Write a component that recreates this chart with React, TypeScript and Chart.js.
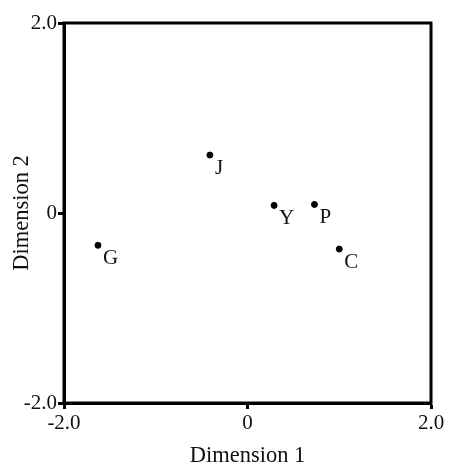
import React, { useEffect, useRef } from "react";
import { Chart, registerables } from "chart.js";

Chart.register(...registerables);

const labels = ["J", "Y", "P", "C", "G"];
const dim1 = [-0.41, 0.29, 0.73, 1.0, -1.63];
const dim2 = [0.61, 0.08, 0.09, -0.38, -0.34];
const tickValues = [-2, 0, 2];
const tickText: Record<string, string> = { "-2": "-2.0", "0": "0", "2": "2.0" };

const FONT = "'Liberation Serif', 'Times New Roman', serif";

const labelPlugin = {
  id: "pointLabels",
  afterDatasetsDraw(chart: any) {
    const ctx = chart.ctx;
    const meta = chart.getDatasetMeta(0);
    ctx.save();
    ctx.font = `21px ${FONT}`;
    ctx.fillStyle = "#111";
    ctx.textAlign = "left";
    ctx.textBaseline = "alphabetic";
    meta.data.forEach((el: any, i: number) => {
      ctx.fillText(labels[i], el.x + 5, el.y + 19);
    });
    ctx.restore();
  },
};

const framePlugin = {
  id: "frame",
  afterDraw(chart: any) {
    const { ctx, chartArea } = chart;
    ctx.save();
    ctx.strokeStyle = "#000";
    ctx.lineWidth = 3;
    ctx.strokeRect(chartArea.left, chartArea.top, chartArea.right - chartArea.left, chartArea.bottom - chartArea.top);
    ctx.restore();
  },
};

export default function App() {
  const ref = useRef<HTMLCanvasElement>(null);
  useEffect(() => {
    document.body.style.margin = "0";
    const chart = new Chart(ref.current!, {
      type: "scatter",
      data: {
        datasets: [
          {
            data: dim1.map((x, i) => ({ x, y: dim2[i] })),
            backgroundColor: "#000",
            borderColor: "#000",
            pointRadius: 3,
          },
        ],
      },
      options: {
        animation: false,
        responsive: false,
        plugins: { legend: { display: false }, tooltip: { enabled: false } },
        layout: { padding: { top: 23, right: 18, left: 0, bottom: 0 } },
        scales: {
          x: {
            type: "linear",
            min: -2,
            max: 2,
            afterFit: (s: any) => { s.height = 64; },
            afterBuildTicks: (s: any) => { s.ticks = tickValues.map((v) => ({ value: v })); },
            ticks: {
              callback: (v: any) => tickText[String(v)],
              color: "#111",
              font: { family: FONT, size: 21 },
              padding: 2,
              maxRotation: 0,
            },
            grid: { drawOnChartArea: false, drawTicks: true, tickLength: 6, tickWidth: 3, tickColor: "#000" },
            border: { display: true, color: "#000", width: 3 },
            title: {
              display: true,
              text: "Dimension 1",
              color: "#111",
              font: { family: FONT, size: 22.5 },
              padding: { top: 4, bottom: -3 },
            },
          },
          y: {
            type: "linear",
            min: -2,
            max: 2,
            afterFit: (s: any) => { s.width = 64; },
            afterBuildTicks: (s: any) => { s.ticks = tickValues.map((v) => ({ value: v })); },
            ticks: {
              callback: (v: any) => tickText[String(v)],
              color: "#111",
              font: { family: FONT, size: 21 },
              padding: 1,
            },
            grid: { drawOnChartArea: false, drawTicks: true, tickLength: 6, tickWidth: 3, tickColor: "#000" },
            border: { display: true, color: "#000", width: 3 },
            title: {
              display: true,
              text: "Dimension 2",
              color: "#111",
              font: { family: FONT, size: 22.5 },
              padding: { top: 9, bottom: 0 },
            },
          },
        },
      },
      plugins: [labelPlugin, framePlugin],
    });
    return () => chart.destroy();
  }, []);
  return (
    <div style={{ width: 449, height: 467, background: "#fff" }}>
      <canvas ref={ref} width={449} height={467} />
    </div>
  );
}
